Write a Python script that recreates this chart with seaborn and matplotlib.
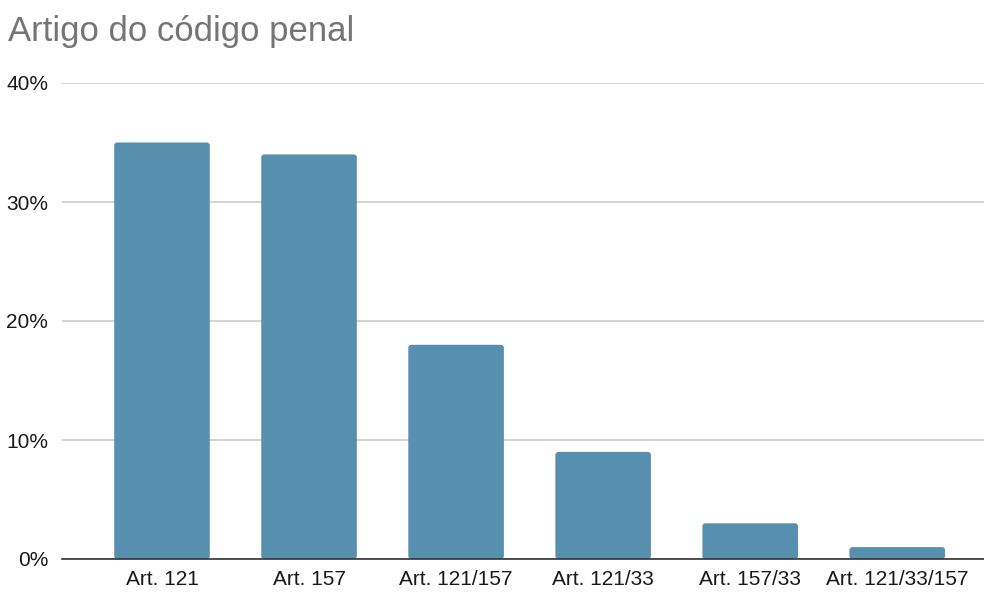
import matplotlib
matplotlib.use("Agg")
import matplotlib.pyplot as plt
from matplotlib.patches import FancyBboxPatch
import seaborn as sns
import pandas as pd

categories = ["Art. 121", "Art. 157", "Art. 121/157", "Art. 121/33", "Art. 157/33", "Art. 121/33/157"]
values = [35, 34, 18, 9, 3, 1]
y_ticks = [0, 10, 20, 30, 40]
y_tick_labels = ["0%", "10%", "20%", "30%", "40%"]

sns.set_theme(style="white")
plt.rcParams["font.family"] = ["Liberation Sans", "DejaVu Sans"]

df = pd.DataFrame({"artigo": categories, "pct": values})

fig = plt.figure(figsize=(9.84, 5.92), dpi=100)
ax = fig.add_axes([62 / 984, 33 / 592, 922 / 984, 476 / 592])

sns.barplot(data=df, x="artigo", y="pct", color="#5790ae", saturation=1,
            width=0.65, ax=ax, zorder=3)

ax.set_xlim(-0.68, 5.59)
ax.set_ylim(0, 40)

# swap plain rectangles for slightly rounded ones
px_x = 1 / 147.0
px_y = 40 / 476.0
for p in list(ax.patches):
    x, y = p.get_x(), p.get_y()
    w, h = p.get_width(), p.get_height()
    fc = p.get_facecolor()
    p.remove()
    r = FancyBboxPatch((x, y), w, h,
                       boxstyle=f"round,pad=0,rounding_size={3 * px_x}",
                       mutation_aspect=px_y / px_x,
                       facecolor=fc, edgecolor="none", zorder=3)
    ax.add_patch(r)

ax.set_yticks(y_ticks)
ax.set_yticklabels(y_tick_labels)
ax.yaxis.grid(True, color="#cccccc", linewidth=1.2, zorder=0)
ax.xaxis.grid(False)
for s in ["top", "right", "left"]:
    ax.spines[s].set_visible(False)
ax.spines["bottom"].set_color("#333333")
ax.spines["bottom"].set_linewidth(1.2)
ax.spines["bottom"].set_zorder(4)

ax.tick_params(axis="both", length=0, labelsize=15, colors="#1a1a1a")
ax.tick_params(axis="y", pad=10)
ax.tick_params(axis="x", pad=8)
ax.set_xlabel("")
ax.set_ylabel("")

fig.text(8 / 984, 1 - 31 / 592, "Artigo do código penal", fontsize=25,
         color="#757575", va="center", ha="left")

fig.savefig("out.png", dpi=100, facecolor="white")
